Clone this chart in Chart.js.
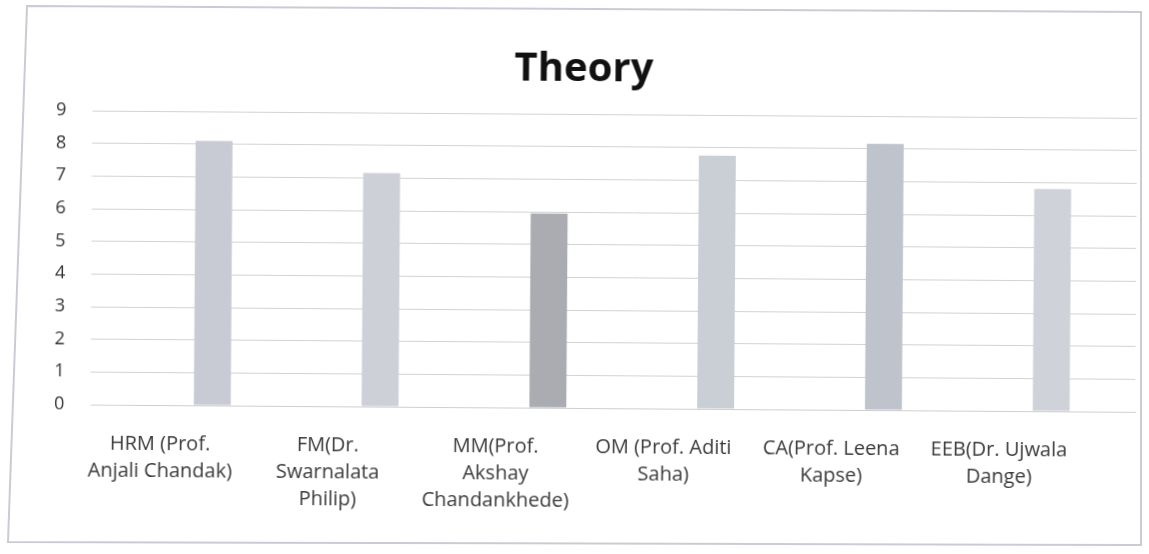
<!DOCTYPE html>
<html>
<head>
<meta charset="utf-8">
<title>Theory</title>
<script src="https://cdn.jsdelivr.net/npm/chart.js@4/dist/chart.umd.min.js"></script>
<style>
  html, body { margin: 0; padding: 0; background: #ffffff; overflow: hidden; }
  #wrap { position: relative; width: 1149px; height: 554px; }
  #frame { position: absolute; left: 0; top: 0; }
  #chart { position: absolute; left: 0; top: 0; transform: translateX(6px) rotate(0.4deg); transform-origin: 50% 50%; }
</style>
</head>
<body>
<div id="wrap">
  <svg id="frame" width="1149" height="554">
    <polygon points="27,6 1141,12 1141,545 8,542" fill="none" stroke="#c9cdd3" stroke-width="2"/>
  </svg>
  <canvas id="chart" width="1149" height="554"></canvas>
</div>
<script>
// Subjects with the faculty member who teaches each one
const categories = [
  ["HRM (Prof.", "Anjali Chandak)"],
  ["FM(Dr.", "Swarnalata", "Philip)"],
  ["MM(Prof.", "Akshay", "Chandankhede)"],
  ["OM (Prof. Aditi", "Saha)"],
  ["CA(Prof. Leena", "Kapse)"],
  ["EEB(Dr. Ujwala", "Dange)"]
];

// Theory rating for each subject
const theoryScores = [8.1, 7.15, 5.95, 7.75, 8.15, 6.8];

// Value axis range and step
const yMin = 0;
const yMax = 9;
const yStep = 1;

// Fill shade of each bar
const barColors = ["#c8cbd3", "#cdd0d7", "#aaacb2", "#caced5", "#bfc3cb", "#cfd2d8"];

const labelFont = { family: "'Open Sans', 'DejaVu Sans', sans-serif", size: 20, lineHeight: 1.35 };

new Chart(document.getElementById("chart"), {
  type: "bar",
  data: {
    labels: categories,
    datasets: [{
      label: "Theory",
      data: theoryScores,
      backgroundColor: barColors,
      borderWidth: 0,
      barPercentage: 0.22,
      categoryPercentage: 1.0
    }]
  },
  options: {
    responsive: false,
    animation: false,
    devicePixelRatio: 1,
    layout: { padding: { left: 23, right: 19, top: 13, bottom: 13 } },
    plugins: {
      legend: { display: false },
      tooltip: { enabled: false },
      title: {
        display: true,
        text: "Theory",
        color: "#111111",
        font: { family: "'Open Sans', 'DejaVu Sans', sans-serif", size: 40, weight: "bold", lineHeight: 1.2 },
        padding: { top: 33, bottom: 20 }
      }
    },
    scales: {
      x: {
        grid: { display: false, drawTicks: false },
        border: { display: true, color: "#cfcfcf", width: 1 },
        ticks: {
          color: "#3a3a3a",
          font: labelFont,
          padding: 26,
          maxRotation: 0,
          autoSkip: false,
          labelOffset: -52
        },
        // the wide category labels may hang past the plot edges
        afterFit(scale) {
          scale.paddingLeft = 0;
          scale.paddingRight = 0;
        }
      },
      y: {
        min: yMin,
        max: yMax,
        grid: { color: "#d2d2d2", lineWidth: 1, drawTicks: true, tickLength: 38 },
        border: { display: false },
        ticks: {
          stepSize: yStep,
          color: "#333333",
          font: { family: "'Open Sans', 'DejaVu Sans', sans-serif", size: 18 },
          padding: 26
        }
      }
    }
  }
});
</script>
</body>
</html>
